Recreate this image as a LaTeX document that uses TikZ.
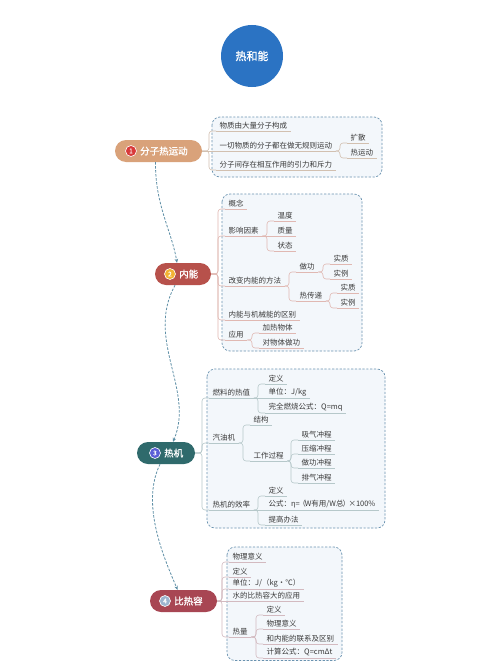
\documentclass[tikz,border=0pt]{standalone}
\usepackage{fontspec}
\setmainfont{Noto Sans CJK SC}
\newfontfamily\cjkbold[FakeBold=1.2]{Noto Sans CJK SC}
\usetikzlibrary{arrows.meta}
\definecolor{titlec}{HTML}{2B73C3}
\definecolor{m1}{HTML}{D9A27A}
\definecolor{m2}{HTML}{B7514B}
\definecolor{m3}{HTML}{2F6A6C}
\definecolor{m4}{HTML}{A84653}
\definecolor{k1}{HTML}{D93A3A}
\definecolor{k2}{HTML}{F2B233}
\definecolor{k3}{HTML}{5B5FD6}
\definecolor{k4}{HTML}{9DB4CF}
\definecolor{l1}{HTML}{D2C0B0}
\definecolor{l2}{HTML}{E0B8B2}
\definecolor{l3}{HTML}{B6C8CA}
\definecolor{l4}{HTML}{D3BAC0}
\definecolor{boxf}{HTML}{F3F7FB}
\definecolor{boxc}{HTML}{6A93B0}
\definecolor{dashc}{HTML}{5E8FA6}
\definecolor{txt}{HTML}{3A3A3A}
\colorlet{lc}{l1}
\tikzset{
  item/.style={anchor=south west, inner xsep=3.5pt, inner ysep=1.6pt,
    font=\fontsize{7.5}{8}\selectfont, text=txt,
    append after command={(\tikzlastnode.south west) edge[draw=lc, line width=0.6pt] (\tikzlastnode.south east)}},
  brl/.style={draw=lc, line width=0.6pt, rounded corners=3pt},
  mainn/.style={rounded corners=11pt, minimum height=22pt, inner sep=0pt},
  num/.style={circle, minimum size=11pt, inner sep=0pt, draw=white, line width=0.6pt,
    font=\cjkbold\fontsize{6.5}{6.5}\selectfont, text=white},
  mtext/.style={anchor=west, inner sep=0pt, text=white, font=\cjkbold\fontsize{9.5}{10}\selectfont},
  boxr/.style={draw=boxc, line width=0.7pt, dash pattern=on 2.2pt off 1.6pt, fill=boxf, rounded corners=8pt},
  conn/.style={draw=dashc, line width=0.8pt, dash pattern=on 2.5pt off 1.5pt, -{Stealth[length=4pt,width=3.5pt]}}
}
\newcommand\brn[2]{\draw[brl] (#1.south east) -| ([xshift=-7pt]#2.south west) -- (#2.south west);}
\newcommand\brs[2]{\draw[brl] (#1.south east) -- (#2.south west);}
\begin{document}
\begin{tikzpicture}[x=1pt,y=-1pt]
\useasboundingbox[fill=white] (0,0) rectangle (500,661);

% title
\node[circle, fill=titlec, minimum size=62pt, inner sep=0pt, text=white,
  font=\cjkbold\fontsize{11}{12}\selectfont] (title) at (252,56) {热和能};

% boxes
\draw[boxr] (212,117) rectangle (382,177);
\draw[boxr] (222,194) rectangle (362,351);
\draw[boxr] (207,369) rectangle (385,528);
\draw[boxr] (227,547) rectangle (342,660.5);

% main nodes
\node[mainn, fill=m1, minimum width=87pt] (n1) at (158.5,151) {};
\node[num, fill=k1] (n1c) at (131,151) {1};
\node[mtext] (n1t) at (140,151) {分子热运动};

\node[mainn, fill=m2, minimum width=56pt] (n2) at (183,274) {};
\node[num, fill=k2] (n2c) at (170,274) {2};
\node[mtext] (n2t) at (179,274) {内能};

\node[mainn, fill=m3, minimum width=58pt] (n3) at (166,453) {};
\node[num, fill=k3] (n3c) at (155,453) {3};
\node[mtext] (n3t) at (164,453) {热机};

\node[mainn, fill=m4, minimum width=67pt] (n4) at (183.5,601) {};
\node[num, fill=k4] (n4c) at (165,601) {4};
\node[mtext] (n4t) at (174,601) {比热容};

% dashed connectors
\draw[conn] ([xshift=-3pt]n1.south) .. controls (155,205) and (172,232) .. ([xshift=-6pt]n2.north);
\draw[conn] ([xshift=-8pt]n2.south) .. controls (145,340) and (195,390) .. ([xshift=7pt]n3.north);
\draw[conn] ([xshift=-6pt]n3.south) .. controls (140,505) and (165,560) .. ([xshift=-6pt]n4.north);

% section 1
\begin{scope}
\colorlet{lc}{l1}
\node[item] (a1) at (216,131) {物质由大量分子构成};
\node[item] (a2) at (216,151) {一切物质的分子都在做无规则运动};
\node[item] (a3) at (216,170) {分子间存在相互作用的引力和斥力};
\node[item] (a21) at (347,143) {扩散};
\node[item] (a22) at (347,158) {热运动};
\draw[brl] (n1.east) -| ([xshift=-7pt]a1.south west) -- (a1.south west);
\draw[brl] (n1.east) -- (a2.south west);
\draw[brl] (n1.east) -| ([xshift=-7pt]a3.south west) -- (a3.south west);
\brn{a2}{a21}
\brn{a2}{a22}
\end{scope}

% section 2
\begin{scope}
\colorlet{lc}{l2}
\node[item] (b1) at (225,209) {概念};
\node[item] (b2) at (225,236) {影响因素};
\node[item] (b3) at (225,286) {改变内能的方法};
\node[item] (b4) at (225,320) {内能与机械能的区别};
\node[item] (b5) at (225,340) {应用};
\node[item] (b21) at (274,221) {温度};
\node[item] (b22) at (274,236) {质量};
\node[item] (b23) at (274,251) {状态};
\node[item] (b31) at (296,272) {做功};
\node[item] (b32) at (296,301) {热传递};
\node[item] (b311) at (330,264) {实质};
\node[item] (b312) at (330,279) {实例};
\node[item] (b321) at (337,293) {实质};
\node[item] (b322) at (337,308) {实例};
\node[item] (b51) at (259,333) {加热物体};
\node[item] (b52) at (259,348) {对物体做功};
\foreach \c in {b1,b2,b3,b4,b5}
  \draw[brl] (n2.east) -| ([xshift=-7pt]\c.south west) -- (\c.south west);
\brn{b2}{b21}
\brs{b2}{b22}
\brn{b2}{b23}
\brn{b3}{b31}
\brn{b3}{b32}
\brn{b31}{b311}
\brn{b31}{b312}
\brn{b32}{b321}
\brn{b32}{b322}
\brn{b5}{b51}
\brn{b5}{b52}
\end{scope}

% section 3
\begin{scope}
\colorlet{lc}{l3}
\node[item] (c1) at (209,398) {燃料的热值};
\node[item] (c2) at (209,443) {汽油机};
\node[item] (c3) at (209,510) {热机的效率};
\node[item] (c11) at (265,384) {定义};
\node[item] (c12) at (265,398) {单位：J/kg};
\node[item] (c13) at (265,413) {完全燃烧公式：Q=mq};
\node[item] (c21) at (250,425) {结构};
\node[item] (c22) at (250,461) {工作过程};
\node[item] (c221) at (298,440) {吸气冲程};
\node[item] (c222) at (298,454) {压缩冲程};
\node[item] (c223) at (298,468) {做功冲程};
\node[item] (c224) at (298,483) {排气冲程};
\node[item] (c31) at (265,496) {定义};
\node[item] (c32) at (265,510) {公式：η=\kern-1.5pt（\kern-1pt W有用/W总\kern-1pt）\kern-1.5pt×100\%};
\node[item] (c33) at (265,525) {提高办法};
\foreach \c in {c1,c2,c3}
  \draw[brl] (n3.east) -| ([xshift=-7pt]\c.south west) -- (\c.south west);
\brn{c1}{c11}
\brs{c1}{c12}
\brn{c1}{c13}
\brn{c2}{c21}
\brn{c2}{c22}
\brn{c22}{c221}
\brn{c22}{c222}
\brn{c22}{c223}
\brn{c22}{c224}
\brn{c3}{c31}
\brs{c3}{c32}
\brn{c3}{c33}
\end{scope}

% section 4
\begin{scope}
\colorlet{lc}{l4}
\node[item] (d1) at (229,562) {物理意义};
\node[item] (d2) at (229,577) {定义};
\node[item] (d3) at (229,589) {单位：J/（kg·℃）};
\node[item] (d4) at (229,601) {水的比热容大的应用};
\node[item] (d5) at (229,637) {热量};
\node[item] (d51) at (263,615) {定义};
\node[item] (d52) at (263,629) {物理意义};
\node[item] (d53) at (263,644) {和内能的联系及区别};
\node[item] (d54) at (263,658) {计算公式：Q=cmΔt};
\foreach \c in {d1,d2,d3,d5}
  \draw[brl] (n4.east) -| ([xshift=-7pt]\c.south west) -- (\c.south west);
\draw[brl] (n4.east) -- (d4.south west);
\brn{d5}{d51}
\brn{d5}{d52}
\brn{d5}{d53}
\brn{d5}{d54}
\end{scope}
\end{tikzpicture}
\end{document}
